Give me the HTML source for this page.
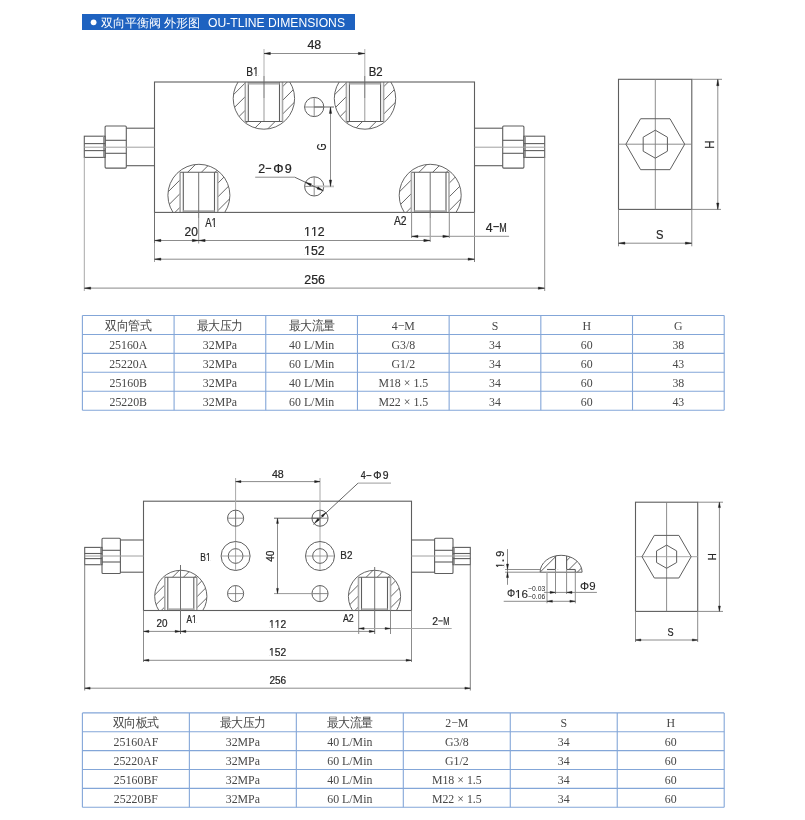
<!DOCTYPE html>
<html><head><meta charset="utf-8"><style>
html,body{margin:0;padding:0;background:#fff;width:805px;height:820px;overflow:hidden}
svg{display:block;will-change:transform;font-family:"Liberation Sans",sans-serif}
</style></head><body>
<svg width="805" height="820" viewBox="0 0 805 820">
<rect x="82" y="14" width="273" height="16" fill="#1e62c0"/>
<circle cx="93.60" cy="22.30" r="2.90" stroke="none" stroke-width="0" fill="#fff" />
<text x="100.5" y="26.6" font-family="Liberation Sans" font-size="12" fill="#fff" textLength="100" lengthAdjust="spacingAndGlyphs">双向平衡阀 外形图</text>
<text x="208" y="26.8" font-family="Liberation Sans" font-size="12.6" fill="#fff" textLength="137" lengthAdjust="spacingAndGlyphs">OU-TLINE DIMENSIONS</text>
<clipPath id="c1"><circle cx="263.9" cy="98.5" r="30.7"/></clipPath>
<clipPath id="c1b"><rect x="231.2" y="82.0" width="65.4" height="49.19999999999999"/></clipPath>
<g clip-path="url(#c1b)">
<g clip-path="url(#c1)">
<line x1="228.20" y1="58.85" x2="299.60" y2="-12.55" stroke="#4a4a4a" stroke-width="0.85" />
<line x1="228.20" y1="72.55" x2="299.60" y2="1.15" stroke="#4a4a4a" stroke-width="0.85" />
<line x1="228.20" y1="86.25" x2="299.60" y2="14.85" stroke="#4a4a4a" stroke-width="0.85" />
<line x1="228.20" y1="99.95" x2="299.60" y2="28.55" stroke="#4a4a4a" stroke-width="0.85" />
<line x1="228.20" y1="113.65" x2="299.60" y2="42.25" stroke="#4a4a4a" stroke-width="0.85" />
<line x1="228.20" y1="127.35" x2="299.60" y2="55.95" stroke="#4a4a4a" stroke-width="0.85" />
<line x1="228.20" y1="141.05" x2="299.60" y2="69.65" stroke="#4a4a4a" stroke-width="0.85" />
<line x1="228.20" y1="154.75" x2="299.60" y2="83.35" stroke="#4a4a4a" stroke-width="0.85" />
<line x1="228.20" y1="168.45" x2="299.60" y2="97.05" stroke="#4a4a4a" stroke-width="0.85" />
<line x1="228.20" y1="182.15" x2="299.60" y2="110.75" stroke="#4a4a4a" stroke-width="0.85" />
<line x1="228.20" y1="195.85" x2="299.60" y2="124.45" stroke="#4a4a4a" stroke-width="0.85" />
<line x1="228.20" y1="209.55" x2="299.60" y2="138.15" stroke="#4a4a4a" stroke-width="0.85" />
</g>
<circle cx="263.90" cy="98.50" r="30.70" stroke="#5e5e5e" stroke-width="0.95" fill="none" />
</g>
<rect x="245.30" y="82.00" width="37.20" height="39.50" fill="#fff"/>
<line x1="245.30" y1="82.00" x2="245.30" y2="121.50" stroke="#a8a8a8" stroke-width="1.6" />
<line x1="282.50" y1="82.00" x2="282.50" y2="121.50" stroke="#a8a8a8" stroke-width="1.6" />
<line x1="248.30" y1="82.00" x2="248.30" y2="121.50" stroke="#5e5e5e" stroke-width="1.1" />
<line x1="279.50" y1="82.00" x2="279.50" y2="121.50" stroke="#5e5e5e" stroke-width="1.1" />
<line x1="245.30" y1="121.50" x2="282.50" y2="121.50" stroke="#5e5e5e" stroke-width="1.1" />
<rect x="248.30" y="82.00" width="31.20" height="2.6" fill="#b0b0b0"/>
<clipPath id="c2"><circle cx="365.0" cy="98.5" r="30.7"/></clipPath>
<clipPath id="c2b"><rect x="332.3" y="82.0" width="65.4" height="49.19999999999999"/></clipPath>
<g clip-path="url(#c2b)">
<g clip-path="url(#c2)">
<line x1="329.30" y1="58.85" x2="400.70" y2="-12.55" stroke="#4a4a4a" stroke-width="0.85" />
<line x1="329.30" y1="72.55" x2="400.70" y2="1.15" stroke="#4a4a4a" stroke-width="0.85" />
<line x1="329.30" y1="86.25" x2="400.70" y2="14.85" stroke="#4a4a4a" stroke-width="0.85" />
<line x1="329.30" y1="99.95" x2="400.70" y2="28.55" stroke="#4a4a4a" stroke-width="0.85" />
<line x1="329.30" y1="113.65" x2="400.70" y2="42.25" stroke="#4a4a4a" stroke-width="0.85" />
<line x1="329.30" y1="127.35" x2="400.70" y2="55.95" stroke="#4a4a4a" stroke-width="0.85" />
<line x1="329.30" y1="141.05" x2="400.70" y2="69.65" stroke="#4a4a4a" stroke-width="0.85" />
<line x1="329.30" y1="154.75" x2="400.70" y2="83.35" stroke="#4a4a4a" stroke-width="0.85" />
<line x1="329.30" y1="168.45" x2="400.70" y2="97.05" stroke="#4a4a4a" stroke-width="0.85" />
<line x1="329.30" y1="182.15" x2="400.70" y2="110.75" stroke="#4a4a4a" stroke-width="0.85" />
<line x1="329.30" y1="195.85" x2="400.70" y2="124.45" stroke="#4a4a4a" stroke-width="0.85" />
<line x1="329.30" y1="209.55" x2="400.70" y2="138.15" stroke="#4a4a4a" stroke-width="0.85" />
</g>
<circle cx="365.00" cy="98.50" r="30.70" stroke="#5e5e5e" stroke-width="0.95" fill="none" />
</g>
<rect x="346.40" y="82.00" width="37.20" height="39.50" fill="#fff"/>
<line x1="346.40" y1="82.00" x2="346.40" y2="121.50" stroke="#a8a8a8" stroke-width="1.6" />
<line x1="383.60" y1="82.00" x2="383.60" y2="121.50" stroke="#a8a8a8" stroke-width="1.6" />
<line x1="349.40" y1="82.00" x2="349.40" y2="121.50" stroke="#5e5e5e" stroke-width="1.1" />
<line x1="380.60" y1="82.00" x2="380.60" y2="121.50" stroke="#5e5e5e" stroke-width="1.1" />
<line x1="346.40" y1="121.50" x2="383.60" y2="121.50" stroke="#5e5e5e" stroke-width="1.1" />
<rect x="349.40" y="82.00" width="31.20" height="2.6" fill="#b0b0b0"/>
<clipPath id="c3"><circle cx="198.9" cy="195.3" r="31.0"/></clipPath>
<clipPath id="c3b"><rect x="165.9" y="162.3" width="66.0" height="50.099999999999994"/></clipPath>
<g clip-path="url(#c3b)">
<g clip-path="url(#c3)">
<line x1="162.90" y1="155.95" x2="234.90" y2="83.95" stroke="#4a4a4a" stroke-width="0.85" />
<line x1="162.90" y1="169.65" x2="234.90" y2="97.65" stroke="#4a4a4a" stroke-width="0.85" />
<line x1="162.90" y1="183.35" x2="234.90" y2="111.35" stroke="#4a4a4a" stroke-width="0.85" />
<line x1="162.90" y1="197.05" x2="234.90" y2="125.05" stroke="#4a4a4a" stroke-width="0.85" />
<line x1="162.90" y1="210.75" x2="234.90" y2="138.75" stroke="#4a4a4a" stroke-width="0.85" />
<line x1="162.90" y1="224.45" x2="234.90" y2="152.45" stroke="#4a4a4a" stroke-width="0.85" />
<line x1="162.90" y1="238.15" x2="234.90" y2="166.15" stroke="#4a4a4a" stroke-width="0.85" />
<line x1="162.90" y1="251.85" x2="234.90" y2="179.85" stroke="#4a4a4a" stroke-width="0.85" />
<line x1="162.90" y1="265.55" x2="234.90" y2="193.55" stroke="#4a4a4a" stroke-width="0.85" />
<line x1="162.90" y1="279.25" x2="234.90" y2="207.25" stroke="#4a4a4a" stroke-width="0.85" />
<line x1="162.90" y1="292.95" x2="234.90" y2="220.95" stroke="#4a4a4a" stroke-width="0.85" />
<line x1="162.90" y1="306.65" x2="234.90" y2="234.65" stroke="#4a4a4a" stroke-width="0.85" />
</g>
<circle cx="198.90" cy="195.30" r="31.00" stroke="#5e5e5e" stroke-width="0.95" fill="none" />
</g>
<rect x="180.10" y="172.30" width="37.60" height="40.10" fill="#fff"/>
<line x1="180.10" y1="172.30" x2="180.10" y2="212.40" stroke="#a8a8a8" stroke-width="1.6" />
<line x1="217.70" y1="172.30" x2="217.70" y2="212.40" stroke="#a8a8a8" stroke-width="1.6" />
<line x1="183.30" y1="172.30" x2="183.30" y2="212.40" stroke="#5e5e5e" stroke-width="1.1" />
<line x1="214.50" y1="172.30" x2="214.50" y2="212.40" stroke="#5e5e5e" stroke-width="1.1" />
<line x1="180.10" y1="172.30" x2="217.70" y2="172.30" stroke="#5e5e5e" stroke-width="1.1" />
<rect x="183.30" y="210.20" width="31.20" height="2.2" fill="#b0b0b0"/>
<clipPath id="c4"><circle cx="430.2" cy="195.3" r="31.0"/></clipPath>
<clipPath id="c4b"><rect x="397.2" y="162.3" width="66.0" height="50.099999999999994"/></clipPath>
<g clip-path="url(#c4b)">
<g clip-path="url(#c4)">
<line x1="394.20" y1="155.95" x2="466.20" y2="83.95" stroke="#4a4a4a" stroke-width="0.85" />
<line x1="394.20" y1="169.65" x2="466.20" y2="97.65" stroke="#4a4a4a" stroke-width="0.85" />
<line x1="394.20" y1="183.35" x2="466.20" y2="111.35" stroke="#4a4a4a" stroke-width="0.85" />
<line x1="394.20" y1="197.05" x2="466.20" y2="125.05" stroke="#4a4a4a" stroke-width="0.85" />
<line x1="394.20" y1="210.75" x2="466.20" y2="138.75" stroke="#4a4a4a" stroke-width="0.85" />
<line x1="394.20" y1="224.45" x2="466.20" y2="152.45" stroke="#4a4a4a" stroke-width="0.85" />
<line x1="394.20" y1="238.15" x2="466.20" y2="166.15" stroke="#4a4a4a" stroke-width="0.85" />
<line x1="394.20" y1="251.85" x2="466.20" y2="179.85" stroke="#4a4a4a" stroke-width="0.85" />
<line x1="394.20" y1="265.55" x2="466.20" y2="193.55" stroke="#4a4a4a" stroke-width="0.85" />
<line x1="394.20" y1="279.25" x2="466.20" y2="207.25" stroke="#4a4a4a" stroke-width="0.85" />
<line x1="394.20" y1="292.95" x2="466.20" y2="220.95" stroke="#4a4a4a" stroke-width="0.85" />
<line x1="394.20" y1="306.65" x2="466.20" y2="234.65" stroke="#4a4a4a" stroke-width="0.85" />
</g>
<circle cx="430.20" cy="195.30" r="31.00" stroke="#5e5e5e" stroke-width="0.95" fill="none" />
</g>
<rect x="411.40" y="172.30" width="37.60" height="40.10" fill="#fff"/>
<line x1="411.40" y1="172.30" x2="411.40" y2="212.40" stroke="#a8a8a8" stroke-width="1.6" />
<line x1="449.00" y1="172.30" x2="449.00" y2="212.40" stroke="#a8a8a8" stroke-width="1.6" />
<line x1="414.40" y1="172.30" x2="414.40" y2="212.40" stroke="#5e5e5e" stroke-width="1.1" />
<line x1="446.00" y1="172.30" x2="446.00" y2="212.40" stroke="#5e5e5e" stroke-width="1.1" />
<line x1="411.40" y1="172.30" x2="449.00" y2="172.30" stroke="#5e5e5e" stroke-width="1.1" />
<rect x="414.40" y="210.20" width="31.60" height="2.2" fill="#b0b0b0"/>
<rect x="154.50" y="82.00" width="320.00" height="130.40" rx="0" stroke="#5e5e5e" stroke-width="1.1" fill="none"/>
<line x1="154.50" y1="128.20" x2="126.30" y2="128.20" stroke="#5e5e5e" stroke-width="1.1" />
<line x1="154.50" y1="165.70" x2="126.30" y2="165.70" stroke="#5e5e5e" stroke-width="1.1" />
<rect x="105.10" y="126.00" width="21.20" height="42.10" rx="1" stroke="#5e5e5e" stroke-width="1.1" fill="none"/>
<line x1="105.10" y1="140.30" x2="126.30" y2="140.30" stroke="#5e5e5e" stroke-width="1.1" />
<line x1="105.10" y1="153.30" x2="126.30" y2="153.30" stroke="#5e5e5e" stroke-width="1.1" />
<rect x="84.30" y="136.20" width="20.80" height="21.20" rx="0" stroke="#5e5e5e" stroke-width="1.1" fill="none"/>
<line x1="103.50" y1="136.20" x2="103.50" y2="157.40" stroke="#999" stroke-width="1.0" />
<line x1="84.30" y1="143.60" x2="105.10" y2="143.60" stroke="#5e5e5e" stroke-width="1.1" />
<line x1="84.30" y1="150.60" x2="105.10" y2="150.60" stroke="#5e5e5e" stroke-width="1.1" />
<line x1="154.50" y1="147.20" x2="84.30" y2="147.20" stroke="#a0a0a0" stroke-width="1.0" />
<line x1="474.50" y1="128.20" x2="502.70" y2="128.20" stroke="#5e5e5e" stroke-width="1.1" />
<line x1="474.50" y1="165.70" x2="502.70" y2="165.70" stroke="#5e5e5e" stroke-width="1.1" />
<rect x="502.70" y="126.00" width="21.20" height="42.10" rx="1" stroke="#5e5e5e" stroke-width="1.1" fill="none"/>
<line x1="502.70" y1="140.30" x2="523.90" y2="140.30" stroke="#5e5e5e" stroke-width="1.1" />
<line x1="502.70" y1="153.30" x2="523.90" y2="153.30" stroke="#5e5e5e" stroke-width="1.1" />
<rect x="523.90" y="136.20" width="20.80" height="21.20" rx="0" stroke="#5e5e5e" stroke-width="1.1" fill="none"/>
<line x1="525.50" y1="136.20" x2="525.50" y2="157.40" stroke="#999" stroke-width="1.0" />
<line x1="523.90" y1="143.60" x2="544.70" y2="143.60" stroke="#5e5e5e" stroke-width="1.1" />
<line x1="523.90" y1="150.60" x2="544.70" y2="150.60" stroke="#5e5e5e" stroke-width="1.1" />
<line x1="474.50" y1="147.20" x2="544.70" y2="147.20" stroke="#a0a0a0" stroke-width="1.0" />
<line x1="264.00" y1="49.00" x2="264.00" y2="76.00" stroke="#b0b0b0" stroke-width="1.0" />
<line x1="264.00" y1="76.00" x2="264.00" y2="98.00" stroke="#666" stroke-width="1.0" />
<line x1="264.00" y1="98.00" x2="264.00" y2="121.00" stroke="#999" stroke-width="1.0" />
<line x1="364.80" y1="49.00" x2="364.80" y2="76.00" stroke="#b0b0b0" stroke-width="1.0" />
<line x1="364.80" y1="76.00" x2="364.80" y2="98.00" stroke="#666" stroke-width="1.0" />
<line x1="364.80" y1="98.00" x2="364.80" y2="121.00" stroke="#999" stroke-width="1.0" />
<line x1="264.00" y1="53.50" x2="364.80" y2="53.50" stroke="#8c8c8c" stroke-width="1.0" />
<polygon points="264.00,53.50 270.40,52.35 270.40,54.65" fill="#1e1e1e" stroke="#1e1e1e" stroke-width="0.4"/>
<polygon points="364.80,53.50 358.40,54.65 358.40,52.35" fill="#1e1e1e" stroke="#1e1e1e" stroke-width="0.4"/>
<g transform="translate(307.45,49.07) scale(0.988,1)"><text style="font-kerning:none" font-family="Liberation Sans" font-size="12.54" fill="#262626" stroke="#262626" stroke-width="0.22">48</text></g>
<g transform="translate(246.19,75.80) scale(0.808,1)"><text style="font-kerning:none" font-family="Liberation Sans" font-size="12.61" fill="#262626" stroke="#262626" stroke-width="0.22">B1</text><rect x="8.66" y="-1.39" width="2.81" height="1.89" fill="#fff"/><rect x="12.79" y="-1.39" width="2.69" height="1.89" fill="#fff"/></g>
<g transform="translate(368.69,75.50) scale(0.856,1)"><text style="font-kerning:none" font-family="Liberation Sans" font-size="13.29" fill="#262626" stroke="#262626" stroke-width="0.22">B2</text></g>
<circle cx="314.20" cy="107.00" r="9.60" stroke="#5e5e5e" stroke-width="1.0" fill="none" />
<line x1="304.60" y1="107.00" x2="323.80" y2="107.00" stroke="#707070" stroke-width="0.8" />
<line x1="314.20" y1="97.40" x2="314.20" y2="116.60" stroke="#707070" stroke-width="0.8" />
<circle cx="314.20" cy="186.40" r="9.60" stroke="#5e5e5e" stroke-width="1.0" fill="none" />
<line x1="304.60" y1="186.40" x2="323.80" y2="186.40" stroke="#707070" stroke-width="0.8" />
<line x1="314.20" y1="176.80" x2="314.20" y2="196.00" stroke="#707070" stroke-width="0.8" />
<line x1="314.20" y1="107.00" x2="334.00" y2="107.00" stroke="#666" stroke-width="1.0" />
<line x1="314.20" y1="186.40" x2="334.00" y2="186.40" stroke="#c4c4c4" stroke-width="1.8" />
<line x1="330.50" y1="107.00" x2="330.50" y2="186.40" stroke="#8c8c8c" stroke-width="1.0" />
<polygon points="330.50,107.00 331.65,113.40 329.35,113.40" fill="#1e1e1e" stroke="#1e1e1e" stroke-width="0.4"/>
<polygon points="330.50,186.40 329.35,180.00 331.65,180.00" fill="#1e1e1e" stroke="#1e1e1e" stroke-width="0.4"/>
<g transform="translate(325.87,150.56) rotate(-90) scale(0.736,1)"><text style="font-kerning:none" font-family="Liberation Sans" font-size="12.54" fill="#262626" stroke="#262626" stroke-width="0.22">G</text></g>
<line x1="255.20" y1="177.20" x2="294.70" y2="177.20" stroke="#8c8c8c" stroke-width="1.0" />
<line x1="294.70" y1="177.20" x2="323.50" y2="190.80" stroke="#555" stroke-width="0.9" />
<polygon points="305.50,182.30 311.44,183.78 310.41,185.95" fill="#1e1e1e" stroke="#1e1e1e" stroke-width="0.4"/>
<polygon points="322.90,190.50 316.96,189.02 317.99,186.85" fill="#1e1e1e" stroke="#1e1e1e" stroke-width="0.4"/>
<g transform="translate(258.18,173.30) scale(0.923,1)"><text style="font-kerning:none" font-family="Liberation Sans" font-size="13.43" fill="#262626" stroke="#262626" stroke-width="0.22">2</text></g>
<line x1="265.60" y1="168.40" x2="271.20" y2="168.40" stroke="#262626" stroke-width="1.1" />
<g transform="translate(273.22,173.30) scale(0.964,1)"><text style="font-kerning:none" font-family="Liberation Sans" font-size="13.43" fill="#262626" stroke="#262626" stroke-width="0.22">Φ</text></g>
<g transform="translate(284.77,173.17) scale(0.952,1)"><text style="font-kerning:none" font-family="Liberation Sans" font-size="13.24" fill="#262626" stroke="#262626" stroke-width="0.22">9</text></g>
<line x1="198.70" y1="172.00" x2="198.70" y2="218.00" stroke="#707070" stroke-width="1.0" />
<line x1="198.70" y1="218.00" x2="198.70" y2="243.50" stroke="#909090" stroke-width="1.0" />
<line x1="430.20" y1="172.00" x2="430.20" y2="218.00" stroke="#707070" stroke-width="1.0" />
<line x1="430.20" y1="218.00" x2="430.20" y2="242.00" stroke="#909090" stroke-width="1.0" />
<line x1="154.50" y1="212.40" x2="154.50" y2="243.00" stroke="#707070" stroke-width="1.0" />
<line x1="154.50" y1="243.00" x2="154.50" y2="262.00" stroke="#a0a0a0" stroke-width="1.0" />
<line x1="474.50" y1="212.40" x2="474.50" y2="262.00" stroke="#808080" stroke-width="1.0" />
<line x1="84.30" y1="157.40" x2="84.30" y2="291.00" stroke="#a8a8a8" stroke-width="1.0" />
<line x1="544.70" y1="157.40" x2="544.70" y2="291.00" stroke="#909090" stroke-width="1.0" />
<g transform="translate(205.20,227.00) scale(0.751,1)"><text style="font-kerning:none" font-family="Liberation Sans" font-size="12.75" fill="#262626" stroke="#262626" stroke-width="0.22">A1</text><rect x="8.76" y="-1.40" width="2.84" height="1.91" fill="#fff"/><rect x="12.93" y="-1.40" width="2.72" height="1.91" fill="#fff"/></g>
<g transform="translate(393.90,224.90) scale(0.862,1)"><text style="font-kerning:none" font-family="Liberation Sans" font-size="12.00" fill="#262626" stroke="#262626" stroke-width="0.22">A2</text></g>
<line x1="154.50" y1="240.50" x2="430.20" y2="240.50" stroke="#8c8c8c" stroke-width="1.0" />
<polygon points="154.50,240.50 160.90,239.35 160.90,241.65" fill="#1e1e1e" stroke="#1e1e1e" stroke-width="0.4"/>
<polygon points="198.70,240.50 192.30,241.65 192.30,239.35" fill="#1e1e1e" stroke="#1e1e1e" stroke-width="0.4"/>
<polygon points="198.70,240.50 205.10,239.35 205.10,241.65" fill="#1e1e1e" stroke="#1e1e1e" stroke-width="0.4"/>
<polygon points="430.20,240.50 423.80,241.65 423.80,239.35" fill="#1e1e1e" stroke="#1e1e1e" stroke-width="0.4"/>
<g transform="translate(184.50,235.97) scale(0.941,1)"><text style="font-kerning:none" font-family="Liberation Sans" font-size="12.82" fill="#262626" stroke="#262626" stroke-width="0.22">20</text></g>
<g transform="translate(304.11,236.30) scale(0.960,1)"><text style="font-kerning:none" font-family="Liberation Sans" font-size="12.86" fill="#262626" stroke="#262626" stroke-width="0.22">112</text><rect x="0.26" y="-1.41" width="2.87" height="1.93" fill="#fff"/><rect x="4.46" y="-1.41" width="2.74" height="1.93" fill="#fff"/><rect x="7.41" y="-1.41" width="2.87" height="1.93" fill="#fff"/><rect x="11.61" y="-1.41" width="2.74" height="1.93" fill="#fff"/></g>
<line x1="154.50" y1="259.20" x2="474.50" y2="259.20" stroke="#8c8c8c" stroke-width="1.0" />
<polygon points="154.50,259.20 160.90,258.05 160.90,260.35" fill="#1e1e1e" stroke="#1e1e1e" stroke-width="0.4"/>
<polygon points="474.50,259.20 468.10,260.35 468.10,258.05" fill="#1e1e1e" stroke="#1e1e1e" stroke-width="0.4"/>
<g transform="translate(304.11,254.87) scale(0.963,1)"><text style="font-kerning:none" font-family="Liberation Sans" font-size="12.82" fill="#262626" stroke="#262626" stroke-width="0.22">152</text><rect x="0.26" y="-1.41" width="2.86" height="1.92" fill="#fff"/><rect x="4.45" y="-1.41" width="2.73" height="1.92" fill="#fff"/></g>
<line x1="84.30" y1="288.20" x2="544.70" y2="288.20" stroke="#a0a0a0" stroke-width="1.2" />
<polygon points="84.30,288.20 90.70,287.05 90.70,289.35" fill="#1e1e1e" stroke="#1e1e1e" stroke-width="0.4"/>
<polygon points="544.70,288.20 538.30,289.35 538.30,287.05" fill="#1e1e1e" stroke="#1e1e1e" stroke-width="0.4"/>
<g transform="translate(304.28,283.88) scale(0.997,1)"><text style="font-kerning:none" font-family="Liberation Sans" font-size="12.39" fill="#262626" stroke="#262626" stroke-width="0.22">256</text></g>
<line x1="411.60" y1="212.40" x2="411.60" y2="238.00" stroke="#8c8c8c" stroke-width="1.0" />
<line x1="449.30" y1="212.40" x2="449.30" y2="238.00" stroke="#8c8c8c" stroke-width="1.0" />
<line x1="411.60" y1="236.40" x2="509.10" y2="236.40" stroke="#a8a8a8" stroke-width="1.1" />
<polygon points="411.60,236.40 418.00,235.25 418.00,237.55" fill="#1e1e1e" stroke="#1e1e1e" stroke-width="0.4"/>
<polygon points="449.30,236.40 442.90,237.55 442.90,235.25" fill="#1e1e1e" stroke="#1e1e1e" stroke-width="0.4"/>
<g transform="translate(485.85,231.84) scale(0.903,1)"><text style="font-kerning:none" font-family="Liberation Sans" font-size="13.68" fill="#262626" stroke="#262626" stroke-width="0.22">4</text></g>
<line x1="493.30" y1="226.60" x2="498.90" y2="226.60" stroke="#262626" stroke-width="1.1" />
<g transform="translate(499.28,231.70) scale(0.664,1)"><text style="font-kerning:none" font-family="Liberation Sans" font-size="13.48" fill="#262626" stroke="#262626" stroke-width="0.22">M</text></g>
<rect x="618.50" y="79.30" width="73.30" height="130.10" rx="0" stroke="#5e5e5e" stroke-width="1.1" fill="none"/>
<line x1="655.30" y1="79.30" x2="655.30" y2="209.40" stroke="#808080" stroke-width="0.9" />
<line x1="618.50" y1="144.20" x2="691.80" y2="144.20" stroke="#808080" stroke-width="0.9" />
<polygon points="684.70,144.20 670.00,169.66 640.60,169.66 625.90,144.20 640.60,118.74 670.00,118.74" stroke="#5e5e5e" stroke-width="1.0" fill="none"/>
<polygon points="667.42,151.20 655.30,158.20 643.18,151.20 643.18,137.20 655.30,130.20 667.42,137.20" stroke="#5e5e5e" stroke-width="1.0" fill="none"/>
<line x1="691.80" y1="79.30" x2="722.00" y2="79.30" stroke="#8c8c8c" stroke-width="1.0" />
<line x1="691.80" y1="209.40" x2="721.00" y2="209.40" stroke="#8c8c8c" stroke-width="1.0" />
<line x1="717.80" y1="79.30" x2="717.80" y2="209.40" stroke="#8c8c8c" stroke-width="1.0" />
<polygon points="717.80,79.30 718.95,85.70 716.65,85.70" fill="#1e1e1e" stroke="#1e1e1e" stroke-width="0.4"/>
<polygon points="717.80,209.40 716.65,203.00 718.95,203.00" fill="#1e1e1e" stroke="#1e1e1e" stroke-width="0.4"/>
<g transform="translate(713.50,148.81) rotate(-90) scale(0.839,1)"><text style="font-kerning:none" font-family="Liberation Sans" font-size="13.62" fill="#262626" stroke="#262626" stroke-width="0.22">H</text></g>
<line x1="618.50" y1="209.40" x2="618.50" y2="246.30" stroke="#8c8c8c" stroke-width="1.0" />
<line x1="691.80" y1="209.40" x2="691.80" y2="246.30" stroke="#8c8c8c" stroke-width="1.0" />
<line x1="618.50" y1="243.20" x2="691.80" y2="243.20" stroke="#8c8c8c" stroke-width="1.0" />
<polygon points="618.50,243.20 624.90,242.05 624.90,244.35" fill="#1e1e1e" stroke="#1e1e1e" stroke-width="0.4"/>
<polygon points="691.80,243.20 685.40,244.35 685.40,242.05" fill="#1e1e1e" stroke="#1e1e1e" stroke-width="0.4"/>
<g transform="translate(655.94,238.97) scale(0.896,1)"><text style="font-kerning:none" font-family="Liberation Sans" font-size="12.54" fill="#262626" stroke="#262626" stroke-width="0.22">S</text></g>
<line x1="82.40" y1="315.50" x2="724.20" y2="315.50" stroke="#83a6d8" stroke-width="1.1" />
<line x1="82.40" y1="334.44" x2="724.20" y2="334.44" stroke="#83a6d8" stroke-width="1.1" />
<line x1="82.40" y1="353.38" x2="724.20" y2="353.38" stroke="#83a6d8" stroke-width="1.1" />
<line x1="82.40" y1="372.32" x2="724.20" y2="372.32" stroke="#83a6d8" stroke-width="1.1" />
<line x1="82.40" y1="391.26" x2="724.20" y2="391.26" stroke="#83a6d8" stroke-width="1.1" />
<line x1="82.40" y1="410.20" x2="724.20" y2="410.20" stroke="#83a6d8" stroke-width="1.1" />
<line x1="82.40" y1="315.50" x2="82.40" y2="410.20" stroke="#83a6d8" stroke-width="1.1" />
<line x1="174.09" y1="315.50" x2="174.09" y2="410.20" stroke="#83a6d8" stroke-width="1.1" />
<line x1="265.77" y1="315.50" x2="265.77" y2="410.20" stroke="#83a6d8" stroke-width="1.1" />
<line x1="357.46" y1="315.50" x2="357.46" y2="410.20" stroke="#83a6d8" stroke-width="1.1" />
<line x1="449.14" y1="315.50" x2="449.14" y2="410.20" stroke="#83a6d8" stroke-width="1.1" />
<line x1="540.83" y1="315.50" x2="540.83" y2="410.20" stroke="#83a6d8" stroke-width="1.1" />
<line x1="632.51" y1="315.50" x2="632.51" y2="410.20" stroke="#83a6d8" stroke-width="1.1" />
<line x1="724.20" y1="315.50" x2="724.20" y2="410.20" stroke="#83a6d8" stroke-width="1.1" />
<text transform="translate(128.24,329.97) scale(0.92,1)" font-family="Liberation Serif" font-size="12.9" fill="#474747" text-anchor="middle">双向管式</text>
<text transform="translate(219.93,329.97) scale(0.92,1)" font-family="Liberation Serif" font-size="12.9" fill="#474747" text-anchor="middle">最大压力</text>
<text transform="translate(311.61,329.97) scale(0.92,1)" font-family="Liberation Serif" font-size="12.9" fill="#474747" text-anchor="middle">最大流量</text>
<text transform="translate(403.30,329.97) scale(0.92,1)" font-family="Liberation Serif" font-size="12.9" fill="#474747" text-anchor="middle">4−M</text>
<text transform="translate(494.99,329.97) scale(0.92,1)" font-family="Liberation Serif" font-size="12.9" fill="#474747" text-anchor="middle">S</text>
<text transform="translate(586.67,329.97) scale(0.92,1)" font-family="Liberation Serif" font-size="12.9" fill="#474747" text-anchor="middle">H</text>
<text transform="translate(678.36,329.97) scale(0.92,1)" font-family="Liberation Serif" font-size="12.9" fill="#474747" text-anchor="middle">G</text>
<text transform="translate(128.24,348.91) scale(0.92,1)" font-family="Liberation Serif" font-size="12.9" fill="#474747" text-anchor="middle">25160A</text>
<text transform="translate(219.93,348.91) scale(0.92,1)" font-family="Liberation Serif" font-size="12.9" fill="#474747" text-anchor="middle">32MPa</text>
<text transform="translate(311.61,348.91) scale(0.92,1)" font-family="Liberation Serif" font-size="12.9" fill="#474747" text-anchor="middle">40 L/Min</text>
<text transform="translate(403.30,348.91) scale(0.92,1)" font-family="Liberation Serif" font-size="12.9" fill="#474747" text-anchor="middle">G3/8</text>
<text transform="translate(494.99,348.91) scale(0.92,1)" font-family="Liberation Serif" font-size="12.9" fill="#474747" text-anchor="middle">34</text>
<text transform="translate(586.67,348.91) scale(0.92,1)" font-family="Liberation Serif" font-size="12.9" fill="#474747" text-anchor="middle">60</text>
<text transform="translate(678.36,348.91) scale(0.92,1)" font-family="Liberation Serif" font-size="12.9" fill="#474747" text-anchor="middle">38</text>
<text transform="translate(128.24,367.85) scale(0.92,1)" font-family="Liberation Serif" font-size="12.9" fill="#474747" text-anchor="middle">25220A</text>
<text transform="translate(219.93,367.85) scale(0.92,1)" font-family="Liberation Serif" font-size="12.9" fill="#474747" text-anchor="middle">32MPa</text>
<text transform="translate(311.61,367.85) scale(0.92,1)" font-family="Liberation Serif" font-size="12.9" fill="#474747" text-anchor="middle">60 L/Min</text>
<text transform="translate(403.30,367.85) scale(0.92,1)" font-family="Liberation Serif" font-size="12.9" fill="#474747" text-anchor="middle">G1/2</text>
<text transform="translate(494.99,367.85) scale(0.92,1)" font-family="Liberation Serif" font-size="12.9" fill="#474747" text-anchor="middle">34</text>
<text transform="translate(586.67,367.85) scale(0.92,1)" font-family="Liberation Serif" font-size="12.9" fill="#474747" text-anchor="middle">60</text>
<text transform="translate(678.36,367.85) scale(0.92,1)" font-family="Liberation Serif" font-size="12.9" fill="#474747" text-anchor="middle">43</text>
<text transform="translate(128.24,386.79) scale(0.92,1)" font-family="Liberation Serif" font-size="12.9" fill="#474747" text-anchor="middle">25160B</text>
<text transform="translate(219.93,386.79) scale(0.92,1)" font-family="Liberation Serif" font-size="12.9" fill="#474747" text-anchor="middle">32MPa</text>
<text transform="translate(311.61,386.79) scale(0.92,1)" font-family="Liberation Serif" font-size="12.9" fill="#474747" text-anchor="middle">40 L/Min</text>
<text transform="translate(403.30,386.79) scale(0.92,1)" font-family="Liberation Serif" font-size="12.9" fill="#474747" text-anchor="middle">M18 × 1.5</text>
<text transform="translate(494.99,386.79) scale(0.92,1)" font-family="Liberation Serif" font-size="12.9" fill="#474747" text-anchor="middle">34</text>
<text transform="translate(586.67,386.79) scale(0.92,1)" font-family="Liberation Serif" font-size="12.9" fill="#474747" text-anchor="middle">60</text>
<text transform="translate(678.36,386.79) scale(0.92,1)" font-family="Liberation Serif" font-size="12.9" fill="#474747" text-anchor="middle">38</text>
<text transform="translate(128.24,405.73) scale(0.92,1)" font-family="Liberation Serif" font-size="12.9" fill="#474747" text-anchor="middle">25220B</text>
<text transform="translate(219.93,405.73) scale(0.92,1)" font-family="Liberation Serif" font-size="12.9" fill="#474747" text-anchor="middle">32MPa</text>
<text transform="translate(311.61,405.73) scale(0.92,1)" font-family="Liberation Serif" font-size="12.9" fill="#474747" text-anchor="middle">60 L/Min</text>
<text transform="translate(403.30,405.73) scale(0.92,1)" font-family="Liberation Serif" font-size="12.9" fill="#474747" text-anchor="middle">M22 × 1.5</text>
<text transform="translate(494.99,405.73) scale(0.92,1)" font-family="Liberation Serif" font-size="12.9" fill="#474747" text-anchor="middle">34</text>
<text transform="translate(586.67,405.73) scale(0.92,1)" font-family="Liberation Serif" font-size="12.9" fill="#474747" text-anchor="middle">60</text>
<text transform="translate(678.36,405.73) scale(0.92,1)" font-family="Liberation Serif" font-size="12.9" fill="#474747" text-anchor="middle">43</text>
<clipPath id="c5"><circle cx="180.8" cy="596.4" r="26.1"/></clipPath>
<clipPath id="c5b"><rect x="152.70000000000002" y="568.3" width="56.2" height="42.200000000000045"/></clipPath>
<g clip-path="url(#c5b)">
<g clip-path="url(#c5)">
<line x1="149.70" y1="567.00" x2="211.90" y2="504.80" stroke="#4a4a4a" stroke-width="0.85" />
<line x1="149.70" y1="578.00" x2="211.90" y2="515.80" stroke="#4a4a4a" stroke-width="0.85" />
<line x1="149.70" y1="589.00" x2="211.90" y2="526.80" stroke="#4a4a4a" stroke-width="0.85" />
<line x1="149.70" y1="600.00" x2="211.90" y2="537.80" stroke="#4a4a4a" stroke-width="0.85" />
<line x1="149.70" y1="611.00" x2="211.90" y2="548.80" stroke="#4a4a4a" stroke-width="0.85" />
<line x1="149.70" y1="622.00" x2="211.90" y2="559.80" stroke="#4a4a4a" stroke-width="0.85" />
<line x1="149.70" y1="633.00" x2="211.90" y2="570.80" stroke="#4a4a4a" stroke-width="0.85" />
<line x1="149.70" y1="644.00" x2="211.90" y2="581.80" stroke="#4a4a4a" stroke-width="0.85" />
<line x1="149.70" y1="655.00" x2="211.90" y2="592.80" stroke="#4a4a4a" stroke-width="0.85" />
<line x1="149.70" y1="666.00" x2="211.90" y2="603.80" stroke="#4a4a4a" stroke-width="0.85" />
<line x1="149.70" y1="677.00" x2="211.90" y2="614.80" stroke="#4a4a4a" stroke-width="0.85" />
<line x1="149.70" y1="688.00" x2="211.90" y2="625.80" stroke="#4a4a4a" stroke-width="0.85" />
</g>
<circle cx="180.80" cy="596.40" r="26.10" stroke="#5e5e5e" stroke-width="0.95" fill="none" />
</g>
<rect x="164.80" y="577.20" width="32.00" height="33.30" fill="#fff"/>
<line x1="164.80" y1="577.20" x2="164.80" y2="610.50" stroke="#a8a8a8" stroke-width="1.6" />
<line x1="196.80" y1="577.20" x2="196.80" y2="610.50" stroke="#a8a8a8" stroke-width="1.6" />
<line x1="167.80" y1="577.20" x2="167.80" y2="610.50" stroke="#5e5e5e" stroke-width="1.1" />
<line x1="193.80" y1="577.20" x2="193.80" y2="610.50" stroke="#5e5e5e" stroke-width="1.1" />
<line x1="164.80" y1="577.20" x2="196.80" y2="577.20" stroke="#5e5e5e" stroke-width="1.1" />
<rect x="167.80" y="608.30" width="26.00" height="2.2" fill="#b0b0b0"/>
<clipPath id="c6"><circle cx="374.5" cy="596.4" r="26.1"/></clipPath>
<clipPath id="c6b"><rect x="346.4" y="568.3" width="56.2" height="42.200000000000045"/></clipPath>
<g clip-path="url(#c6b)">
<g clip-path="url(#c6)">
<line x1="343.40" y1="567.00" x2="405.60" y2="504.80" stroke="#4a4a4a" stroke-width="0.85" />
<line x1="343.40" y1="578.00" x2="405.60" y2="515.80" stroke="#4a4a4a" stroke-width="0.85" />
<line x1="343.40" y1="589.00" x2="405.60" y2="526.80" stroke="#4a4a4a" stroke-width="0.85" />
<line x1="343.40" y1="600.00" x2="405.60" y2="537.80" stroke="#4a4a4a" stroke-width="0.85" />
<line x1="343.40" y1="611.00" x2="405.60" y2="548.80" stroke="#4a4a4a" stroke-width="0.85" />
<line x1="343.40" y1="622.00" x2="405.60" y2="559.80" stroke="#4a4a4a" stroke-width="0.85" />
<line x1="343.40" y1="633.00" x2="405.60" y2="570.80" stroke="#4a4a4a" stroke-width="0.85" />
<line x1="343.40" y1="644.00" x2="405.60" y2="581.80" stroke="#4a4a4a" stroke-width="0.85" />
<line x1="343.40" y1="655.00" x2="405.60" y2="592.80" stroke="#4a4a4a" stroke-width="0.85" />
<line x1="343.40" y1="666.00" x2="405.60" y2="603.80" stroke="#4a4a4a" stroke-width="0.85" />
<line x1="343.40" y1="677.00" x2="405.60" y2="614.80" stroke="#4a4a4a" stroke-width="0.85" />
<line x1="343.40" y1="688.00" x2="405.60" y2="625.80" stroke="#4a4a4a" stroke-width="0.85" />
</g>
<circle cx="374.50" cy="596.40" r="26.10" stroke="#5e5e5e" stroke-width="0.95" fill="none" />
</g>
<rect x="358.50" y="577.20" width="32.00" height="33.30" fill="#fff"/>
<line x1="358.50" y1="577.20" x2="358.50" y2="610.50" stroke="#a8a8a8" stroke-width="1.6" />
<line x1="390.50" y1="577.20" x2="390.50" y2="610.50" stroke="#a8a8a8" stroke-width="1.6" />
<line x1="361.50" y1="577.20" x2="361.50" y2="610.50" stroke="#5e5e5e" stroke-width="1.1" />
<line x1="387.50" y1="577.20" x2="387.50" y2="610.50" stroke="#5e5e5e" stroke-width="1.1" />
<line x1="358.50" y1="577.20" x2="390.50" y2="577.20" stroke="#5e5e5e" stroke-width="1.1" />
<rect x="361.50" y="608.30" width="26.00" height="2.2" fill="#b0b0b0"/>
<rect x="143.50" y="501.20" width="268.00" height="109.30" rx="0" stroke="#5e5e5e" stroke-width="1.1" fill="none"/>
<line x1="143.50" y1="540.00" x2="120.40" y2="540.00" stroke="#5e5e5e" stroke-width="1.1" />
<line x1="143.50" y1="572.20" x2="120.40" y2="572.20" stroke="#5e5e5e" stroke-width="1.1" />
<rect x="102.00" y="538.20" width="18.40" height="35.30" rx="1" stroke="#5e5e5e" stroke-width="1.1" fill="none"/>
<line x1="102.00" y1="550.30" x2="120.40" y2="550.30" stroke="#5e5e5e" stroke-width="1.1" />
<line x1="102.00" y1="562.00" x2="120.40" y2="562.00" stroke="#5e5e5e" stroke-width="1.1" />
<rect x="84.70" y="547.40" width="17.30" height="17.30" rx="0" stroke="#5e5e5e" stroke-width="1.1" fill="none"/>
<line x1="100.60" y1="547.40" x2="100.60" y2="564.70" stroke="#999" stroke-width="1.0" />
<line x1="84.70" y1="553.50" x2="102.00" y2="553.50" stroke="#5e5e5e" stroke-width="1.1" />
<line x1="84.70" y1="558.60" x2="102.00" y2="558.60" stroke="#5e5e5e" stroke-width="1.1" />
<line x1="143.50" y1="556.00" x2="84.70" y2="556.00" stroke="#a0a0a0" stroke-width="1.0" />
<line x1="411.50" y1="540.00" x2="434.60" y2="540.00" stroke="#5e5e5e" stroke-width="1.1" />
<line x1="411.50" y1="572.20" x2="434.60" y2="572.20" stroke="#5e5e5e" stroke-width="1.1" />
<rect x="434.60" y="538.20" width="18.40" height="35.30" rx="1" stroke="#5e5e5e" stroke-width="1.1" fill="none"/>
<line x1="434.60" y1="550.30" x2="453.00" y2="550.30" stroke="#5e5e5e" stroke-width="1.1" />
<line x1="434.60" y1="562.00" x2="453.00" y2="562.00" stroke="#5e5e5e" stroke-width="1.1" />
<rect x="453.00" y="547.40" width="17.30" height="17.30" rx="0" stroke="#5e5e5e" stroke-width="1.1" fill="none"/>
<line x1="454.40" y1="547.40" x2="454.40" y2="564.70" stroke="#999" stroke-width="1.0" />
<line x1="453.00" y1="553.50" x2="470.30" y2="553.50" stroke="#5e5e5e" stroke-width="1.1" />
<line x1="453.00" y1="558.60" x2="470.30" y2="558.60" stroke="#5e5e5e" stroke-width="1.1" />
<line x1="411.50" y1="556.00" x2="470.30" y2="556.00" stroke="#a0a0a0" stroke-width="1.0" />
<line x1="235.60" y1="478.00" x2="235.60" y2="570.40" stroke="#a8a8a8" stroke-width="1.0" />
<circle cx="235.60" cy="556.00" r="14.50" stroke="#5e5e5e" stroke-width="1.0" fill="none" />
<circle cx="235.60" cy="556.00" r="7.35" stroke="#5e5e5e" stroke-width="1.0" fill="none" />
<line x1="221.10" y1="556.00" x2="250.10" y2="556.00" stroke="#888" stroke-width="0.8" />
<circle cx="235.60" cy="518.20" r="8.05" stroke="#5e5e5e" stroke-width="1.0" fill="none" />
<line x1="227.55" y1="518.20" x2="243.65" y2="518.20" stroke="#707070" stroke-width="0.8" />
<line x1="235.60" y1="510.15" x2="235.60" y2="526.25" stroke="#707070" stroke-width="0.8" />
<circle cx="235.60" cy="593.60" r="8.05" stroke="#5e5e5e" stroke-width="1.0" fill="none" />
<line x1="227.55" y1="593.60" x2="243.65" y2="593.60" stroke="#707070" stroke-width="0.8" />
<line x1="235.60" y1="585.55" x2="235.60" y2="601.65" stroke="#707070" stroke-width="0.8" />
<line x1="320.00" y1="478.00" x2="320.00" y2="570.40" stroke="#a8a8a8" stroke-width="1.0" />
<circle cx="320.00" cy="556.00" r="14.50" stroke="#5e5e5e" stroke-width="1.0" fill="none" />
<circle cx="320.00" cy="556.00" r="7.35" stroke="#5e5e5e" stroke-width="1.0" fill="none" />
<line x1="305.50" y1="556.00" x2="334.50" y2="556.00" stroke="#888" stroke-width="0.8" />
<circle cx="320.00" cy="518.20" r="8.05" stroke="#5e5e5e" stroke-width="1.0" fill="none" />
<line x1="311.95" y1="518.20" x2="328.05" y2="518.20" stroke="#707070" stroke-width="0.8" />
<line x1="320.00" y1="510.15" x2="320.00" y2="526.25" stroke="#707070" stroke-width="0.8" />
<circle cx="320.00" cy="593.60" r="8.05" stroke="#5e5e5e" stroke-width="1.0" fill="none" />
<line x1="311.95" y1="593.60" x2="328.05" y2="593.60" stroke="#707070" stroke-width="0.8" />
<line x1="320.00" y1="585.55" x2="320.00" y2="601.65" stroke="#707070" stroke-width="0.8" />
<line x1="235.60" y1="481.60" x2="320.00" y2="481.60" stroke="#8c8c8c" stroke-width="1.0" />
<polygon points="235.60,481.60 241.00,480.55 241.00,482.65" fill="#1e1e1e" stroke="#1e1e1e" stroke-width="0.4"/>
<polygon points="320.00,481.60 314.60,482.65 314.60,480.55" fill="#1e1e1e" stroke="#1e1e1e" stroke-width="0.4"/>
<g transform="translate(271.89,477.89) scale(0.971,1)"><text style="font-kerning:none" font-family="Liberation Sans" font-size="10.99" fill="#262626" stroke="#262626" stroke-width="0.22">48</text></g>
<line x1="274.00" y1="518.20" x2="320.00" y2="518.20" stroke="#555" stroke-width="0.9" />
<line x1="274.00" y1="593.60" x2="320.00" y2="593.60" stroke="#8c8c8c" stroke-width="0.9" />
<line x1="277.50" y1="518.20" x2="277.50" y2="593.60" stroke="#8c8c8c" stroke-width="1.0" />
<polygon points="277.50,518.20 278.50,523.40 276.50,523.40" fill="#1e1e1e" stroke="#1e1e1e" stroke-width="0.4"/>
<polygon points="277.50,593.60 276.50,588.40 278.50,588.40" fill="#1e1e1e" stroke="#1e1e1e" stroke-width="0.4"/>
<g transform="translate(273.79,561.80) rotate(-90) scale(0.965,1)"><text style="font-kerning:none" font-family="Liberation Sans" font-size="10.56" fill="#262626" stroke="#262626" stroke-width="0.22">40</text></g>
<g transform="translate(200.32,561.00) scale(0.736,1)"><text style="font-kerning:none" font-family="Liberation Sans" font-size="11.59" fill="#262626" stroke="#262626" stroke-width="0.22">B1</text><rect x="7.97" y="-1.28" width="2.59" height="1.74" fill="#fff"/><rect x="11.76" y="-1.28" width="2.47" height="1.74" fill="#fff"/></g>
<g transform="translate(340.31,558.80) scale(0.901,1)"><text style="font-kerning:none" font-family="Liberation Sans" font-size="11.00" fill="#262626" stroke="#262626" stroke-width="0.22">B2</text></g>
<line x1="313.50" y1="524.50" x2="358.10" y2="483.10" stroke="#555" stroke-width="0.9" />
<polygon points="326.00,512.60 322.72,517.15 321.22,515.53" fill="#1e1e1e" stroke="#1e1e1e" stroke-width="0.4"/>
<polygon points="314.60,522.90 317.88,518.35 319.38,519.97" fill="#1e1e1e" stroke="#1e1e1e" stroke-width="0.4"/>
<line x1="358.10" y1="483.10" x2="391.00" y2="483.10" stroke="#b0b0b0" stroke-width="1.3" />
<g transform="translate(360.72,479.11) scale(0.818,1)"><text style="font-kerning:none" font-family="Liberation Sans" font-size="11.03" fill="#262626" stroke="#262626" stroke-width="0.22">4</text></g>
<line x1="366.30" y1="475.60" x2="371.40" y2="475.60" stroke="#262626" stroke-width="1.0" />
<g transform="translate(373.27,479.00) scale(0.975,1)"><text style="font-kerning:none" font-family="Liberation Sans" font-size="10.71" fill="#262626" stroke="#262626" stroke-width="0.22">Φ</text></g>
<g transform="translate(382.68,478.89) scale(0.988,1)"><text style="font-kerning:none" font-family="Liberation Sans" font-size="10.56" fill="#262626" stroke="#262626" stroke-width="0.22">9</text></g>
<line x1="180.50" y1="565.00" x2="180.50" y2="634.00" stroke="#707070" stroke-width="1.0" />
<line x1="374.70" y1="567.00" x2="374.70" y2="634.00" stroke="#707070" stroke-width="1.0" />
<line x1="143.50" y1="610.50" x2="143.50" y2="662.00" stroke="#8c8c8c" stroke-width="1.0" />
<line x1="411.50" y1="610.50" x2="411.50" y2="662.00" stroke="#8c8c8c" stroke-width="1.0" />
<line x1="84.70" y1="564.70" x2="84.70" y2="690.50" stroke="#808080" stroke-width="1.0" />
<line x1="470.30" y1="564.70" x2="470.30" y2="690.50" stroke="#808080" stroke-width="1.0" />
<g transform="translate(186.50,622.90) scale(0.763,1)"><text style="font-kerning:none" font-family="Liberation Sans" font-size="10.87" fill="#262626" stroke="#262626" stroke-width="0.22">A1</text><rect x="7.47" y="-1.20" width="2.42" height="1.63" fill="#fff"/><rect x="11.02" y="-1.20" width="2.32" height="1.63" fill="#fff"/></g>
<g transform="translate(343.00,621.60) scale(0.811,1)"><text style="font-kerning:none" font-family="Liberation Sans" font-size="10.86" fill="#262626" stroke="#262626" stroke-width="0.22">A2</text></g>
<line x1="143.50" y1="631.40" x2="374.70" y2="631.40" stroke="#8c8c8c" stroke-width="1.0" />
<polygon points="143.50,631.40 148.90,630.35 148.90,632.45" fill="#1e1e1e" stroke="#1e1e1e" stroke-width="0.4"/>
<polygon points="180.50,631.40 175.10,632.45 175.10,630.35" fill="#1e1e1e" stroke="#1e1e1e" stroke-width="0.4"/>
<polygon points="180.50,631.40 185.90,630.35 185.90,632.45" fill="#1e1e1e" stroke="#1e1e1e" stroke-width="0.4"/>
<polygon points="374.70,631.40 369.30,632.45 369.30,630.35" fill="#1e1e1e" stroke="#1e1e1e" stroke-width="0.4"/>
<g transform="translate(156.40,627.29) scale(0.937,1)"><text style="font-kerning:none" font-family="Liberation Sans" font-size="10.56" fill="#262626" stroke="#262626" stroke-width="0.22">20</text></g>
<g transform="translate(269.08,627.60) scale(0.958,1)"><text style="font-kerning:none" font-family="Liberation Sans" font-size="10.71" fill="#262626" stroke="#262626" stroke-width="0.22">112</text><rect x="0.21" y="-1.18" width="2.39" height="1.61" fill="#fff"/><rect x="3.72" y="-1.18" width="2.28" height="1.61" fill="#fff"/><rect x="6.17" y="-1.18" width="2.39" height="1.61" fill="#fff"/><rect x="9.68" y="-1.18" width="2.28" height="1.61" fill="#fff"/></g>
<line x1="358.70" y1="610.50" x2="358.70" y2="634.00" stroke="#8c8c8c" stroke-width="1.0" />
<line x1="390.50" y1="610.50" x2="390.50" y2="634.00" stroke="#8c8c8c" stroke-width="1.0" />
<line x1="358.70" y1="628.50" x2="451.70" y2="628.50" stroke="#a8a8a8" stroke-width="1.2" />
<polygon points="358.70,628.50 364.10,627.45 364.10,629.55" fill="#1e1e1e" stroke="#1e1e1e" stroke-width="0.4"/>
<polygon points="390.50,628.50 385.10,629.55 385.10,627.45" fill="#1e1e1e" stroke="#1e1e1e" stroke-width="0.4"/>
<g transform="translate(432.28,625.00) scale(0.913,1)"><text style="font-kerning:none" font-family="Liberation Sans" font-size="11.43" fill="#262626" stroke="#262626" stroke-width="0.22">2</text></g>
<line x1="438.30" y1="620.90" x2="442.80" y2="620.90" stroke="#262626" stroke-width="1.0" />
<g transform="translate(443.30,625.00) scale(0.644,1)"><text style="font-kerning:none" font-family="Liberation Sans" font-size="11.59" fill="#262626" stroke="#262626" stroke-width="0.22">M</text></g>
<line x1="143.50" y1="660.30" x2="411.50" y2="660.30" stroke="#8c8c8c" stroke-width="1.0" />
<polygon points="143.50,660.30 148.90,659.25 148.90,661.35" fill="#1e1e1e" stroke="#1e1e1e" stroke-width="0.4"/>
<polygon points="411.50,660.30 406.10,661.35 406.10,659.25" fill="#1e1e1e" stroke="#1e1e1e" stroke-width="0.4"/>
<g transform="translate(269.08,656.10) scale(0.984,1)"><text style="font-kerning:none" font-family="Liberation Sans" font-size="10.42" fill="#262626" stroke="#262626" stroke-width="0.22">152</text><rect x="0.21" y="-1.15" width="2.32" height="1.56" fill="#fff"/><rect x="3.62" y="-1.15" width="2.22" height="1.56" fill="#fff"/></g>
<line x1="84.70" y1="688.20" x2="470.30" y2="688.20" stroke="#8c8c8c" stroke-width="1.0" />
<polygon points="84.70,688.20 90.10,687.15 90.10,689.25" fill="#1e1e1e" stroke="#1e1e1e" stroke-width="0.4"/>
<polygon points="470.30,688.20 464.90,689.25 464.90,687.15" fill="#1e1e1e" stroke="#1e1e1e" stroke-width="0.4"/>
<g transform="translate(269.40,684.29) scale(0.953,1)"><text style="font-kerning:none" font-family="Liberation Sans" font-size="10.56" fill="#262626" stroke="#262626" stroke-width="0.22">256</text></g>
<clipPath id="dome"><path d="M540.1,572.2 A21.0,16.9 0 0 1 582.1,572.2 Z"/></clipPath>
<g clip-path="url(#dome)">
<line x1="530.00" y1="582.30" x2="590.00" y2="522.30" stroke="#4a4a4a" stroke-width="0.9" />
<line x1="530.00" y1="597.30" x2="590.00" y2="537.30" stroke="#4a4a4a" stroke-width="0.9" />
<line x1="530.00" y1="608.50" x2="590.00" y2="548.50" stroke="#4a4a4a" stroke-width="0.9" />
<line x1="530.00" y1="619.50" x2="590.00" y2="559.50" stroke="#4a4a4a" stroke-width="0.9" />
</g>
<rect x="555.5" y="556.5" width="11.1" height="13.0" fill="#fff"/>
<rect x="547" y="569.5" width="28.3" height="2.7" fill="#fff"/>
<path d="M540.1,572.2 A21.0,16.9 0 0 1 582.1,572.2 Z" fill="none" stroke="#5e5e5e" stroke-width="1"/>
<line x1="555.50" y1="556.00" x2="555.50" y2="569.50" stroke="#5e5e5e" stroke-width="1.1" />
<line x1="566.60" y1="556.00" x2="566.60" y2="569.50" stroke="#5e5e5e" stroke-width="1.1" />
<line x1="547.00" y1="569.50" x2="555.50" y2="569.50" stroke="#5e5e5e" stroke-width="1.1" />
<line x1="566.60" y1="569.50" x2="575.30" y2="569.50" stroke="#5e5e5e" stroke-width="1.1" />
<line x1="575.30" y1="569.50" x2="575.30" y2="572.20" stroke="#5e5e5e" stroke-width="1.1" />
<line x1="505.10" y1="569.50" x2="540.50" y2="569.50" stroke="#8c8c8c" stroke-width="1.0" />
<line x1="505.10" y1="572.20" x2="540.00" y2="572.20" stroke="#8c8c8c" stroke-width="1.0" />
<line x1="507.50" y1="549.10" x2="507.50" y2="584.80" stroke="#8c8c8c" stroke-width="1.0" />
<polygon points="507.50,569.50 506.45,564.10 508.55,564.10" fill="#1e1e1e" stroke="#1e1e1e" stroke-width="0.4"/>
<polygon points="507.50,572.20 508.55,577.60 506.45,577.60" fill="#1e1e1e" stroke="#1e1e1e" stroke-width="0.4"/>
<g transform="translate(503.65,567.77) rotate(-90) scale(0.775,1)"><text style="font-kerning:none" font-family="Liberation Sans" font-size="10.80" fill="#262626" stroke="#262626" stroke-width="0.22">1</text><rect x="0.22" y="-1.19" width="2.41" height="1.62" fill="#fff"/><rect x="3.75" y="-1.19" width="2.30" height="1.62" fill="#fff"/></g>
<rect x="502.4" y="559.6" width="1.5" height="1.8" fill="#262626"/>
<g transform="translate(503.99,556.73) rotate(-90) scale(0.957,1)"><text style="font-kerning:none" font-family="Liberation Sans" font-size="11.13" fill="#262626" stroke="#262626" stroke-width="0.22">9</text></g>
<line x1="547.00" y1="572.20" x2="547.00" y2="603.30" stroke="#a8a8a8" stroke-width="1.3" />
<line x1="575.30" y1="572.20" x2="575.30" y2="603.30" stroke="#8c8c8c" stroke-width="1.0" />
<line x1="555.50" y1="569.50" x2="555.50" y2="594.00" stroke="#8c8c8c" stroke-width="1.0" />
<line x1="566.60" y1="569.50" x2="566.60" y2="594.00" stroke="#8c8c8c" stroke-width="1.0" />
<line x1="544.00" y1="592.40" x2="596.90" y2="592.40" stroke="#8c8c8c" stroke-width="1.0" />
<polygon points="555.50,592.40 550.10,593.45 550.10,591.35" fill="#1e1e1e" stroke="#1e1e1e" stroke-width="0.4"/>
<polygon points="566.60,592.40 572.00,591.35 572.00,593.45" fill="#1e1e1e" stroke="#1e1e1e" stroke-width="0.4"/>
<g transform="translate(580.01,589.60) scale(1.128,1)"><text style="font-kerning:none" font-family="Liberation Sans" font-size="10.14" fill="#262626" stroke="#262626" stroke-width="0.1">Φ9</text></g>
<line x1="503.70" y1="601.30" x2="575.30" y2="601.30" stroke="#8c8c8c" stroke-width="1.0" />
<polygon points="547.00,601.30 552.40,600.25 552.40,602.35" fill="#1e1e1e" stroke="#1e1e1e" stroke-width="0.4"/>
<polygon points="575.30,601.30 569.90,602.35 569.90,600.25" fill="#1e1e1e" stroke="#1e1e1e" stroke-width="0.4"/>
<g transform="translate(506.88,597.10) scale(1.001,1)"><text style="font-kerning:none" font-family="Liberation Sans" font-size="10.29" fill="#262626" stroke="#262626" stroke-width="0.1">Φ</text></g>
<g transform="translate(515.06,597.89) scale(1.040,1)"><text style="font-kerning:none" font-family="Liberation Sans" font-size="11.27" fill="#262626" stroke="#262626" stroke-width="0.1">16</text><rect x="0.23" y="-1.24" width="2.51" height="1.69" fill="#fff"/><rect x="3.91" y="-1.24" width="2.40" height="1.69" fill="#fff"/></g>
<g transform="translate(528.06,591.04) scale(0.939,1)"><text style="font-kerning:none" font-family="Liberation Sans" font-size="7.20" fill="#262626" stroke="#262626" stroke-width="0">−0.03</text></g>
<g transform="translate(528.06,599.04) scale(0.939,1)"><text style="font-kerning:none" font-family="Liberation Sans" font-size="7.20" fill="#262626" stroke="#262626" stroke-width="0">−0.06</text></g>
<rect x="635.50" y="502.20" width="62.20" height="109.20" rx="0" stroke="#5e5e5e" stroke-width="1.1" fill="none"/>
<line x1="666.60" y1="502.20" x2="666.60" y2="611.40" stroke="#808080" stroke-width="0.9" />
<line x1="635.50" y1="556.70" x2="697.70" y2="556.70" stroke="#a0a0a0" stroke-width="0.9" />
<polygon points="691.20,556.70 678.90,578.00 654.30,578.00 642.00,556.70 654.30,535.40 678.90,535.40" stroke="#5e5e5e" stroke-width="1.0" fill="none"/>
<polygon points="676.65,562.50 666.60,568.30 656.55,562.50 656.55,550.90 666.60,545.10 676.65,550.90" stroke="#5e5e5e" stroke-width="1.0" fill="none"/>
<line x1="697.70" y1="502.20" x2="723.00" y2="502.20" stroke="#8c8c8c" stroke-width="1.0" />
<line x1="697.70" y1="611.40" x2="723.00" y2="611.40" stroke="#8c8c8c" stroke-width="1.0" />
<line x1="719.40" y1="502.20" x2="719.40" y2="611.40" stroke="#8c8c8c" stroke-width="1.0" />
<polygon points="719.40,502.20 720.45,507.60 718.35,507.60" fill="#1e1e1e" stroke="#1e1e1e" stroke-width="0.4"/>
<polygon points="719.40,611.40 718.35,606.00 720.45,606.00" fill="#1e1e1e" stroke="#1e1e1e" stroke-width="0.4"/>
<g transform="translate(715.80,560.27) rotate(-90) scale(0.853,1)"><text style="font-kerning:none" font-family="Liberation Sans" font-size="11.30" fill="#262626" stroke="#262626" stroke-width="0.22">H</text></g>
<line x1="635.50" y1="611.40" x2="635.50" y2="642.00" stroke="#8c8c8c" stroke-width="1.0" />
<line x1="697.70" y1="611.40" x2="697.70" y2="642.00" stroke="#8c8c8c" stroke-width="1.0" />
<line x1="635.50" y1="640.00" x2="697.70" y2="640.00" stroke="#8c8c8c" stroke-width="1.0" />
<polygon points="635.50,640.00 640.90,638.95 640.90,641.05" fill="#1e1e1e" stroke="#1e1e1e" stroke-width="0.4"/>
<polygon points="697.70,640.00 692.30,641.05 692.30,638.95" fill="#1e1e1e" stroke="#1e1e1e" stroke-width="0.4"/>
<g transform="translate(667.44,635.90) scale(0.912,1)"><text style="font-kerning:none" font-family="Liberation Sans" font-size="10.00" fill="#262626" stroke="#262626" stroke-width="0.22">S</text></g>
<line x1="82.40" y1="712.90" x2="724.20" y2="712.90" stroke="#83a6d8" stroke-width="1.1" />
<line x1="82.40" y1="731.78" x2="724.20" y2="731.78" stroke="#83a6d8" stroke-width="1.1" />
<line x1="82.40" y1="750.66" x2="724.20" y2="750.66" stroke="#83a6d8" stroke-width="1.1" />
<line x1="82.40" y1="769.54" x2="724.20" y2="769.54" stroke="#83a6d8" stroke-width="1.1" />
<line x1="82.40" y1="788.42" x2="724.20" y2="788.42" stroke="#83a6d8" stroke-width="1.1" />
<line x1="82.40" y1="807.30" x2="724.20" y2="807.30" stroke="#83a6d8" stroke-width="1.1" />
<line x1="82.40" y1="712.90" x2="82.40" y2="807.30" stroke="#83a6d8" stroke-width="1.1" />
<line x1="189.37" y1="712.90" x2="189.37" y2="807.30" stroke="#83a6d8" stroke-width="1.1" />
<line x1="296.33" y1="712.90" x2="296.33" y2="807.30" stroke="#83a6d8" stroke-width="1.1" />
<line x1="403.30" y1="712.90" x2="403.30" y2="807.30" stroke="#83a6d8" stroke-width="1.1" />
<line x1="510.27" y1="712.90" x2="510.27" y2="807.30" stroke="#83a6d8" stroke-width="1.1" />
<line x1="617.23" y1="712.90" x2="617.23" y2="807.30" stroke="#83a6d8" stroke-width="1.1" />
<line x1="724.20" y1="712.90" x2="724.20" y2="807.30" stroke="#83a6d8" stroke-width="1.1" />
<text transform="translate(135.88,727.34) scale(0.92,1)" font-family="Liberation Serif" font-size="12.9" fill="#474747" text-anchor="middle">双向板式</text>
<text transform="translate(242.85,727.34) scale(0.92,1)" font-family="Liberation Serif" font-size="12.9" fill="#474747" text-anchor="middle">最大压力</text>
<text transform="translate(349.82,727.34) scale(0.92,1)" font-family="Liberation Serif" font-size="12.9" fill="#474747" text-anchor="middle">最大流量</text>
<text transform="translate(456.78,727.34) scale(0.92,1)" font-family="Liberation Serif" font-size="12.9" fill="#474747" text-anchor="middle">2−M</text>
<text transform="translate(563.75,727.34) scale(0.92,1)" font-family="Liberation Serif" font-size="12.9" fill="#474747" text-anchor="middle">S</text>
<text transform="translate(670.72,727.34) scale(0.92,1)" font-family="Liberation Serif" font-size="12.9" fill="#474747" text-anchor="middle">H</text>
<text transform="translate(135.88,746.22) scale(0.92,1)" font-family="Liberation Serif" font-size="12.9" fill="#474747" text-anchor="middle">25160AF</text>
<text transform="translate(242.85,746.22) scale(0.92,1)" font-family="Liberation Serif" font-size="12.9" fill="#474747" text-anchor="middle">32MPa</text>
<text transform="translate(349.82,746.22) scale(0.92,1)" font-family="Liberation Serif" font-size="12.9" fill="#474747" text-anchor="middle">40 L/Min</text>
<text transform="translate(456.78,746.22) scale(0.92,1)" font-family="Liberation Serif" font-size="12.9" fill="#474747" text-anchor="middle">G3/8</text>
<text transform="translate(563.75,746.22) scale(0.92,1)" font-family="Liberation Serif" font-size="12.9" fill="#474747" text-anchor="middle">34</text>
<text transform="translate(670.72,746.22) scale(0.92,1)" font-family="Liberation Serif" font-size="12.9" fill="#474747" text-anchor="middle">60</text>
<text transform="translate(135.88,765.10) scale(0.92,1)" font-family="Liberation Serif" font-size="12.9" fill="#474747" text-anchor="middle">25220AF</text>
<text transform="translate(242.85,765.10) scale(0.92,1)" font-family="Liberation Serif" font-size="12.9" fill="#474747" text-anchor="middle">32MPa</text>
<text transform="translate(349.82,765.10) scale(0.92,1)" font-family="Liberation Serif" font-size="12.9" fill="#474747" text-anchor="middle">60 L/Min</text>
<text transform="translate(456.78,765.10) scale(0.92,1)" font-family="Liberation Serif" font-size="12.9" fill="#474747" text-anchor="middle">G1/2</text>
<text transform="translate(563.75,765.10) scale(0.92,1)" font-family="Liberation Serif" font-size="12.9" fill="#474747" text-anchor="middle">34</text>
<text transform="translate(670.72,765.10) scale(0.92,1)" font-family="Liberation Serif" font-size="12.9" fill="#474747" text-anchor="middle">60</text>
<text transform="translate(135.88,783.98) scale(0.92,1)" font-family="Liberation Serif" font-size="12.9" fill="#474747" text-anchor="middle">25160BF</text>
<text transform="translate(242.85,783.98) scale(0.92,1)" font-family="Liberation Serif" font-size="12.9" fill="#474747" text-anchor="middle">32MPa</text>
<text transform="translate(349.82,783.98) scale(0.92,1)" font-family="Liberation Serif" font-size="12.9" fill="#474747" text-anchor="middle">40 L/Min</text>
<text transform="translate(456.78,783.98) scale(0.92,1)" font-family="Liberation Serif" font-size="12.9" fill="#474747" text-anchor="middle">M18 × 1.5</text>
<text transform="translate(563.75,783.98) scale(0.92,1)" font-family="Liberation Serif" font-size="12.9" fill="#474747" text-anchor="middle">34</text>
<text transform="translate(670.72,783.98) scale(0.92,1)" font-family="Liberation Serif" font-size="12.9" fill="#474747" text-anchor="middle">60</text>
<text transform="translate(135.88,802.86) scale(0.92,1)" font-family="Liberation Serif" font-size="12.9" fill="#474747" text-anchor="middle">25220BF</text>
<text transform="translate(242.85,802.86) scale(0.92,1)" font-family="Liberation Serif" font-size="12.9" fill="#474747" text-anchor="middle">32MPa</text>
<text transform="translate(349.82,802.86) scale(0.92,1)" font-family="Liberation Serif" font-size="12.9" fill="#474747" text-anchor="middle">60 L/Min</text>
<text transform="translate(456.78,802.86) scale(0.92,1)" font-family="Liberation Serif" font-size="12.9" fill="#474747" text-anchor="middle">M22 × 1.5</text>
<text transform="translate(563.75,802.86) scale(0.92,1)" font-family="Liberation Serif" font-size="12.9" fill="#474747" text-anchor="middle">34</text>
<text transform="translate(670.72,802.86) scale(0.92,1)" font-family="Liberation Serif" font-size="12.9" fill="#474747" text-anchor="middle">60</text>
</svg>
</body></html>
